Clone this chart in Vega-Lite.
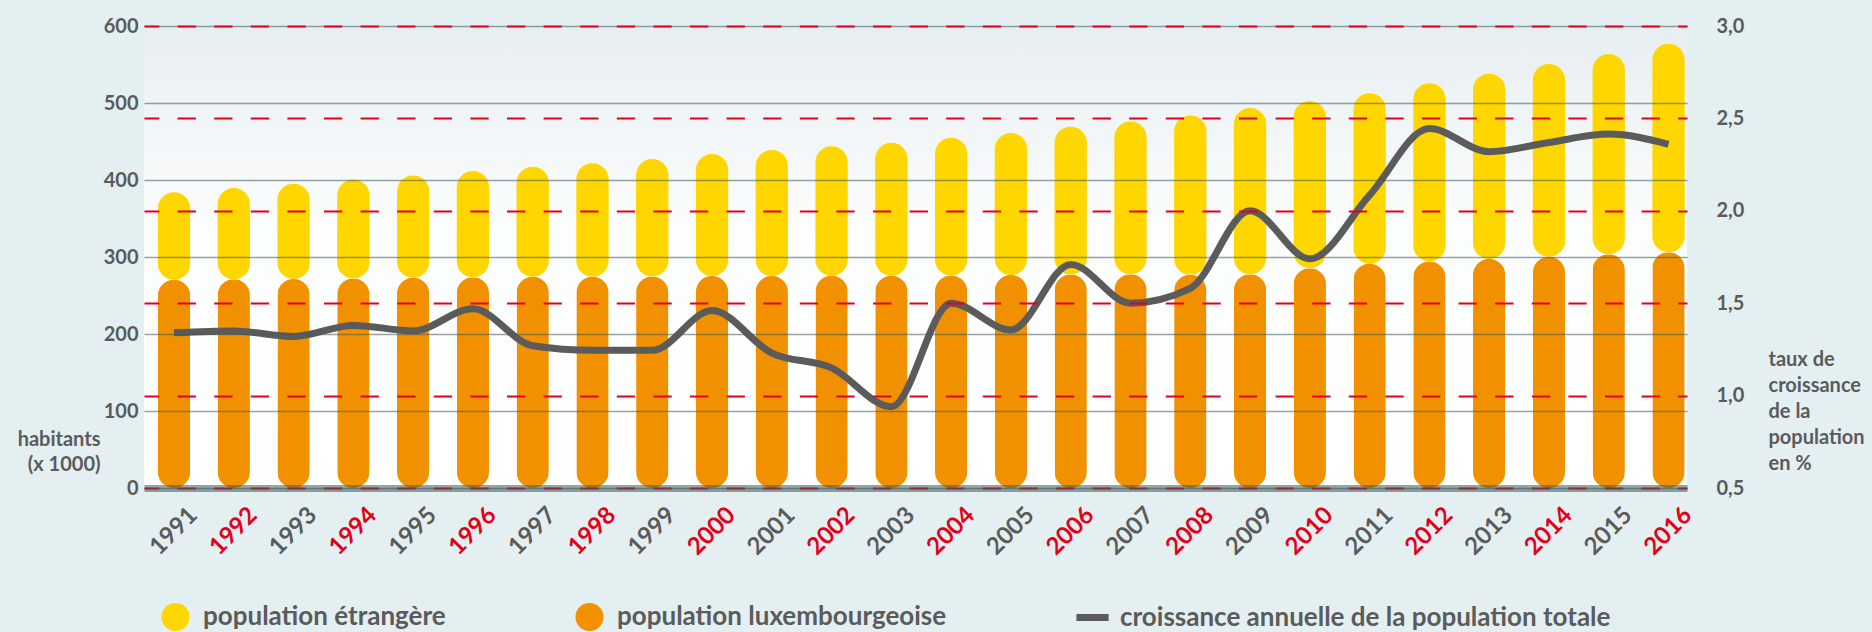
{
  "$schema": "https://vega.github.io/schema/vega-lite/v6.json",
  "width": 1543,
  "height": 462,
  "autosize": {"type": "none"},
  "padding": {"left": 144, "top": 26, "right": 185, "bottom": 144},
  "background": "#e4eff1",
  "config": {"font": "Lato", "view": {"stroke": null}},
  "data": {
    "values": [
      {"annee": 1991, "luxembourgeois": 270.5, "total": 384.2, "croissance": 1.34},
      {"annee": 1992, "luxembourgeois": 271.0, "total": 389.7, "croissance": 1.35},
      {"annee": 1993, "luxembourgeois": 271.4, "total": 395.2, "croissance": 1.32},
      {"annee": 1994, "luxembourgeois": 272.2, "total": 400.5, "croissance": 1.38},
      {"annee": 1995, "luxembourgeois": 273.0, "total": 406.0, "croissance": 1.35},
      {"annee": 1996, "luxembourgeois": 273.6, "total": 411.8, "croissance": 1.47},
      {"annee": 1997, "luxembourgeois": 274.3, "total": 417.2, "croissance": 1.27},
      {"annee": 1998, "luxembourgeois": 274.5, "total": 421.8, "croissance": 1.245},
      {"annee": 1999, "luxembourgeois": 274.8, "total": 427.3, "croissance": 1.245},
      {"annee": 2000, "luxembourgeois": 275.3, "total": 433.8, "croissance": 1.46},
      {"annee": 2001, "luxembourgeois": 275.4, "total": 438.8, "croissance": 1.23},
      {"annee": 2002, "luxembourgeois": 275.6, "total": 443.8, "croissance": 1.15},
      {"annee": 2003, "luxembourgeois": 275.8, "total": 448.5, "croissance": 0.94},
      {"annee": 2004, "luxembourgeois": 275.9, "total": 454.9, "croissance": 1.5},
      {"annee": 2005, "luxembourgeois": 276.5, "total": 461.0, "croissance": 1.355},
      {"annee": 2006, "luxembourgeois": 277.3, "total": 469.0, "croissance": 1.71},
      {"annee": 2007, "luxembourgeois": 277.5, "total": 476.0, "croissance": 1.5},
      {"annee": 2008, "luxembourgeois": 277.0, "total": 483.8, "croissance": 1.58},
      {"annee": 2009, "luxembourgeois": 277.5, "total": 493.5, "croissance": 2.0},
      {"annee": 2010, "luxembourgeois": 285.5, "total": 502.5, "croissance": 1.74},
      {"annee": 2011, "luxembourgeois": 291.3, "total": 512.8, "croissance": 2.085},
      {"annee": 2012, "luxembourgeois": 294.3, "total": 525.5, "croissance": 2.445},
      {"annee": 2013, "luxembourgeois": 297.5, "total": 538.0, "croissance": 2.32},
      {"annee": 2014, "luxembourgeois": 300.4, "total": 550.5, "croissance": 2.37},
      {"annee": 2015, "luxembourgeois": 303.5, "total": 563.5, "croissance": 2.415},
      {"annee": 2016, "luxembourgeois": 306.2, "total": 577.0, "croissance": 2.36}
    ]
  },
  "layer": [
    {
      "layer": [
        {
          "mark": {
            "type": "rect",
            "color": {
              "gradient": "linear",
              "x1": 0, "y1": 0, "x2": 0, "y2": 1,
              "stops": [
                {"offset": 0, "color": "#e7eef1"},
                {"offset": 0.45, "color": "#fcfdfd"},
                {"offset": 1, "color": "#ffffff"}
              ]
            }
          },
          "encoding": {
            "y": {
              "datum": 0,
              "type": "quantitative",
              "scale": {"domain": [0, 600], "nice": false},
              "axis": {
                "values": [0, 100, 200, 300, 400, 500, 600],
                "grid": true,
                "gridColor": "#3f5a5a",
                "gridOpacity": 0.55,
                "gridWidth": 1.7,
                "domain": false,
                "ticks": false,
                "labelPadding": 6,
                "labelFont": "Lato",
                "labelFontSize": 20,
                "labelFontWeight": "bold",
                "labelColor": "#5b5b5b",
                "title": ["habitants", "(x 1000)"],
                "titleFont": "Lato",
                "titleFontSize": 20,
                "titleFontWeight": "bold",
                "titleColor": "#5b5b5b",
                "titleAngle": 0,
                "titleAlign": "right",
                "titleBaseline": "alphabetic",
                "titleX": -44,
                "titleY": 419,
                "titleLineHeight": 25,
                "zindex": 1
              }
            },
            "y2": {"datum": 600}
          }
        },
        {
          "mark": {"type": "bar", "cornerRadius": 16},
          "encoding": {
            "x": {
              "field": "annee",
              "type": "ordinal",
              "scale": {"paddingInner": 0.46, "paddingOuter": 0.1355, "align": 0.855},
              "axis": {
                "title": null,
                "domain": true,
                "domainColor": "#3f5a5a",
                "domainOpacity": 0.55,
                "domainWidth": 7,
                "ticks": false,
                "tickSize": 0,
                "grid": false,
                "labelAngle": -45,
                "labelAlign": "center",
                "labelBaseline": "middle",
                "labelPadding": 43,
                "labelFont": "Lato",
                "labelFontSize": 24,
                "labelFontWeight": "bold",
                "labelColor": {"expr": "datum.value % 2 == 0 ? '#e3001b' : '#5b5b5b'"},
                "zindex": 1
              }
            },
            "y": {"field": "luxembourgeois", "type": "quantitative"},
            "color": {
              "datum": "population luxembourgeoise",
              "type": "nominal",
              "scale": {
                "domain": ["population étrangère", "population luxembourgeoise", "croissance annuelle de la population totale"],
                "range": ["#ffd600", "#f29100", "#5b5b5b"]
              },
              "legend": {
                "orient": "none",
                "legendX": 17.5,
                "legendY": 577,
                "direction": "horizontal",
                "title": null,
                "padding": 0,
                "symbolSize": 784,
                "symbolStrokeWidth": 0,
                "labelOffset": 13.5,
                "columnPadding": 129,
                "labelFont": "Lato",
                "labelFontSize": 26,
                "labelFontWeight": "bold",
                "labelColor": "#5b5b5b",
                "labelLimit": 0,
                "encode": {
                  "symbols": {
                    "update": {
                      "shape": {"signal": "datum.value === 'croissance annuelle de la population totale' ? 'M-1.15,-0.25H1.15V0.25H-1.15Z' : 'circle'"},
                      "fill": {"signal": "scale('color', datum.value)"},
                      "stroke": {"value": "transparent"},
                      "opacity": {"value": 1}
                    }
                  }
                }
              }
            }
          }
        },
        {
          "mark": {"type": "bar", "cornerRadius": 16},
          "encoding": {
            "x": {"field": "annee", "type": "ordinal"},
            "y": {"field": "luxembourgeois", "type": "quantitative"},
            "y2": {"field": "total"},
            "color": {"datum": "population étrangère", "type": "nominal"}
          }
        }
      ]
    },
    {
      "mark": {"type": "line", "interpolate": "monotone", "strokeWidth": 7, "strokeCap": "butt"},
      "encoding": {
        "x": {"field": "annee", "type": "ordinal"},
        "y": {
          "field": "croissance",
          "type": "quantitative",
          "scale": {"domain": [0.5, 3], "nice": false, "zero": false},
          "axis": {
            "orient": "right",
            "values": [0.5, 1, 1.5, 2, 2.5, 3],
            "grid": true,
            "gridColor": "#e3001b",
            "gridDash": [18.3, 18.3],
            "gridDashOffset": 9,
            "gridWidth": 2,
            "domain": false,
            "ticks": false,
            "labelPadding": 29,
            "labelExpr": "replace(format(datum.value, '.1f'), '.', ',')",
            "labelFont": "Lato",
            "labelFontSize": 20,
            "labelFontWeight": "bold",
            "labelColor": "#5b5b5b",
            "title": ["taux de", "croissance", "de la", "population", "en %"],
            "titleFont": "Lato",
            "titleFontSize": 20,
            "titleFontWeight": "bold",
            "titleColor": "#5b5b5b",
            "titleAngle": 0,
            "titleAlign": "left",
            "titleBaseline": "alphabetic",
            "titleX": 81,
            "titleY": 339,
            "titleLineHeight": 26,
            "zindex": 1
          }
        },
        "color": {"datum": "croissance annuelle de la population totale", "type": "nominal"}
      }
    }
  ],
  "resolve": {"scale": {"y": "independent"}}
}
